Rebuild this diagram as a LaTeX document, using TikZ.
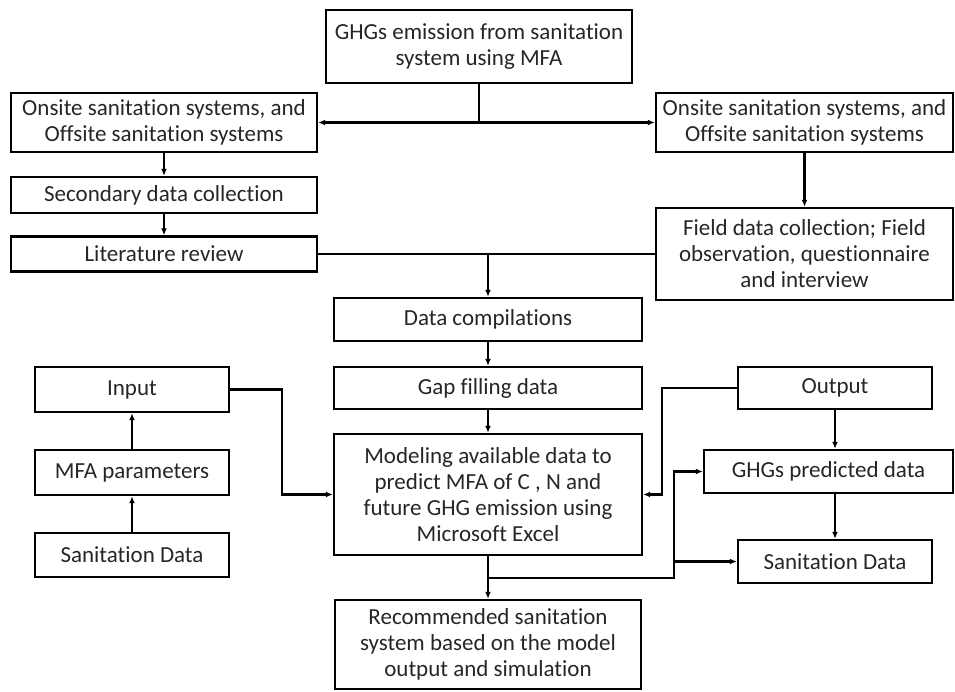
\documentclass[tikz,border=0pt]{standalone}
\usepackage{fontspec}
\setmainfont{Carlito}[Ligatures=NoCommon]
\usetikzlibrary{arrows.meta}
\begin{document}
\begin{tikzpicture}[x=1pt,y=-1pt,
  box/.style={draw=black, line width=2.4pt, align=center, inner sep=0pt,
    font=\fontsize{23}{26}\selectfont, text=black!85},
  conn/.style={line width=2.2pt},
  arr/.style={conn, -{Latex[length=7pt,width=6pt]}}]
\useasboundingbox (0,0) rectangle (955,691);
% boxes (centre, width, height in px)
\node[box, minimum width=306pt, minimum height=73pt] (top) at (479,46.5) {GHGs emission from sanitation\\system using MFA};
\node[box, minimum width=306pt, minimum height=59pt] (L1) at (164,122.5) {Onsite sanitation systems, and\\Offsite sanitation systems};
\node[box, minimum width=297pt, minimum height=59pt] (R1) at (804.5,122.5) {Onsite sanitation systems, and\\Offsite sanitation systems};
\node[box, minimum width=306pt, minimum height=36pt] (sec) at (164,195) {Secondary data collection};
\node[box, minimum width=306pt, minimum height=35pt] (lit) at (164,254) {Literature review};
\node[box, minimum width=297pt, minimum height=92pt] (field) at (804.5,254) {Field data collection; Field\\observation, questionnaire\\and interview};
\node[box, minimum width=308pt, minimum height=43pt] (comp) at (488,319.5) {Data compilations};
\node[box, minimum width=308pt, minimum height=42pt] (gap) at (488,388) {Gap filling data};
\node[box, minimum width=308pt, minimum height=121pt] (model) at (488,494.5) {Modeling available data to\\predict MFA of C , N and\\future GHG emission using\\Microsoft Excel};
\node[box, minimum width=306pt, minimum height=89pt] (rec) at (488,644.5) {Recommended sanitation\\system based on the model\\output and simulation};
\node[box, minimum width=194pt, minimum height=45pt] (input) at (132,389.5) {Input};
\node[box, minimum width=194pt, minimum height=45pt] (mfa) at (132,472.5) {MFA parameters};
\node[box, minimum width=194pt, minimum height=44pt] (sanL) at (132,555) {Sanitation Data};
\node[box, minimum width=194pt, minimum height=42pt] (output) at (835,388) {Output};
\node[box, minimum width=249pt, minimum height=43pt] (ghg) at (828.5,471.5) {GHGs predicted data};
\node[box, minimum width=194pt, minimum height=43pt] (sanR) at (835,561.5) {Sanitation Data};
% junctions
\coordinate (j1) at (479,122.5);
\coordinate (j3) at (488,578);
\coordinate (j4) at (674,578);
\coordinate (j5) at (674,561.5);
% connectors
\draw[conn] (top.south) -- (j1);
\draw[arr] (j1) -- (L1.east);
\draw[arr] (j1) -- (R1.west);
\draw[arr] (L1.south) -- (sec.north);
\draw[arr] (sec.south) -- (lit.north);
\draw[arr] (R1.south) -- (field.north);
\draw[conn] (lit.east) -- (lit.east -| comp.north);
\draw[arr] (field.west) -- (field.west -| comp.north) -- (comp.north);
\draw[arr] (comp.south) -- (gap.north);
\draw[arr] (gap.south) -- (model.north);
\draw[arr] (model.south) -- (rec.north);
\draw[arr] (input.east) -- (282,389.5) -- (282,494.5) -- (model.west);
\draw[arr] (output.west) -- (662,388) -- (662,494.5) -- (model.east);
\draw[arr] (output.south) -- (output.south |- ghg.north);
\draw[arr] (ghg.south -| sanR.north) -- (sanR.north);
\draw[arr] (j3) -- (j4) -- (j4 |- ghg.west) -- (ghg.west);
\draw[arr] (j5) -- (sanR.west);
\draw[arr] (sanL.north) -- (mfa.south);
\draw[arr] (mfa.north) -- (input.south);
\end{tikzpicture}
\end{document}
